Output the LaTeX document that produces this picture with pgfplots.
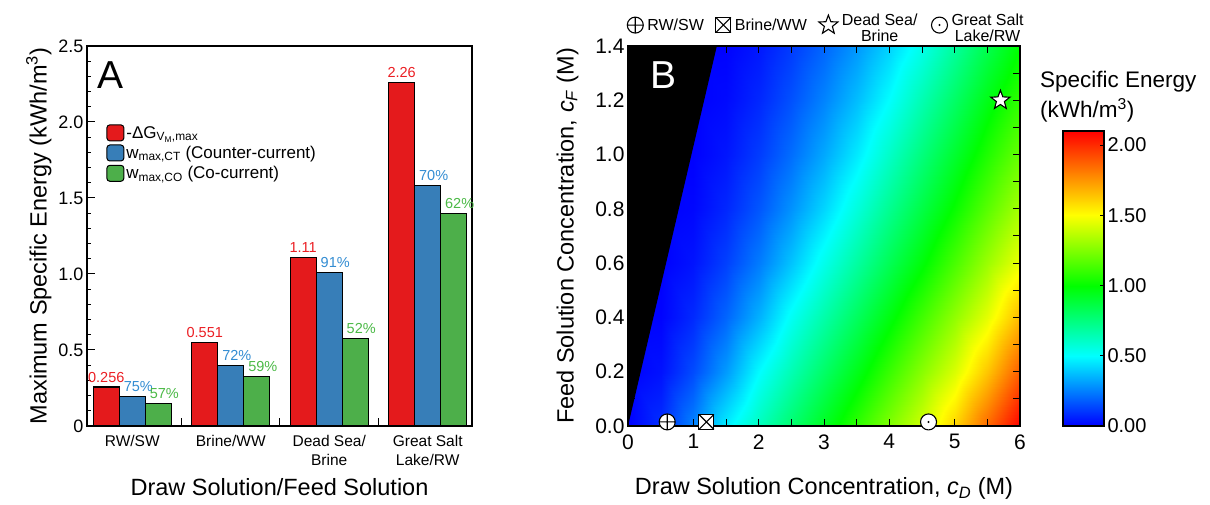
\documentclass[border=0pt]{standalone}
\usepackage{fontspec}
\setmainfont{Liberation Sans}
\usepackage{pgfplots}
\pgfplotsset{compat=1.18}
\pgfplotsset{/pgf/number format/assume math mode=true}

\definecolor{cred}{RGB}{228,26,28}
\definecolor{cblue}{RGB}{55,126,184}
\definecolor{cgreen}{RGB}{77,175,74}
\definecolor{lred}{RGB}{235,30,35}
\definecolor{lblue}{RGB}{50,140,210}
\definecolor{lgreen}{RGB}{75,185,70}

\pgfplotsset{colormap={energy}{rgb255(0cm)=(0,0,255) rgb255(5cm)=(0,255,255) rgb255(10cm)=(0,255,0) rgb255(15cm)=(255,255,0) rgb255(21cm)=(255,0,0)}}

\pgfdeclareplotmark{boxx}{%
  \pgfpathrectanglecorners{\pgfqpoint{-\pgfplotmarksize}{-\pgfplotmarksize}}{\pgfqpoint{\pgfplotmarksize}{\pgfplotmarksize}}%
  \pgfusepathqfillstroke
  \pgfpathmoveto{\pgfqpoint{-\pgfplotmarksize}{-\pgfplotmarksize}}%
  \pgfpathlineto{\pgfqpoint{\pgfplotmarksize}{\pgfplotmarksize}}%
  \pgfpathmoveto{\pgfqpoint{-\pgfplotmarksize}{\pgfplotmarksize}}%
  \pgfpathlineto{\pgfqpoint{\pgfplotmarksize}{-\pgfplotmarksize}}%
  \pgfusepathqstroke}
\pgfdeclareplotmark{fivestar}{%
  \pgfpathmoveto{\pgfpointpolar{90}{\pgfplotmarksize}}%
  \pgfpathlineto{\pgfpointpolar{126}{0.42\pgfplotmarksize}}%
  \pgfpathlineto{\pgfpointpolar{162}{\pgfplotmarksize}}%
  \pgfpathlineto{\pgfpointpolar{198}{0.42\pgfplotmarksize}}%
  \pgfpathlineto{\pgfpointpolar{234}{\pgfplotmarksize}}%
  \pgfpathlineto{\pgfpointpolar{270}{0.42\pgfplotmarksize}}%
  \pgfpathlineto{\pgfpointpolar{306}{\pgfplotmarksize}}%
  \pgfpathlineto{\pgfpointpolar{342}{0.42\pgfplotmarksize}}%
  \pgfpathlineto{\pgfpointpolar{18}{\pgfplotmarksize}}%
  \pgfpathlineto{\pgfpointpolar{54}{0.42\pgfplotmarksize}}%
  \pgfpathclose
  \pgfusepathqfillstroke}
\pgfdeclareplotmark{odotm}{%
  \pgfpathcircle{\pgfpointorigin}{\pgfplotmarksize}%
  \pgfusepathqfillstroke
  \pgfpathcircle{\pgfpointorigin}{0.14\pgfplotmarksize}%
  \pgfsetfillcolor{black}%
  \pgfusepathqfill}

\newcommand\fs[1]{\fontsize{#1}{#1}\selectfont}

\begin{document}
\begin{tikzpicture}
\path[use as bounding box] (0,0) rectangle (1210pt,505pt);

% ---------------- Panel A ----------------
\begin{axis}[
  at={(87pt,79pt)}, anchor=south west,
  scale only axis, width=385pt, height=380pt,
  xmin=-0.46, xmax=3.45, ymin=0, ymax=2.5,
  ybar=0pt, bar width=26pt,
  xtick={0.5,1.5,2.5}, xticklabels={},
  extra x ticks={0,1,2,3},
  extra x tick labels={RW/SW, Brine/WW, {Dead Sea/\\Brine}, {Great Salt\\Lake/RW}},
  extra x tick style={major tick length=0pt, xticklabel style={align=center, font=\fontsize{15.5}{18.5}\selectfont}},
  xticklabel shift=6pt,
  xtick pos=bottom, ytick pos=left,
  ytick={0,0.5,1,1.5,2,2.5}, yticklabels={0,0.5,1.0,1.5,2.0,2.5},
  minor y tick num=4,
  tick align=inside,
  major tick length=8pt, minor tick length=4pt,
  tick style={black, line width=1pt},
  axis line style={line width=1.3pt},
  yticklabel style={font=\fs{18}},
  xlabel={Draw Solution/Feed Solution},
  ylabel={Maximum Specific Energy (kWh/m\textsuperscript{3})},
  label style={font=\fs{23.5}},
  legend style={at={(0.042,0.80)}, anchor=north west, draw=none, fill=none,
    font=\fs{17}, row sep=2.5pt, cells={anchor=west}},
  legend image code/.code={\draw[#1, rounded corners=3pt, line width=1pt] (0pt,-8pt) rectangle (17pt,8pt);},
  nodes near coords,
  point meta=explicit symbolic,
]
\addplot[draw=black, line width=1.2pt, fill=cred,
  every node near coord/.append style={text=lred, font=\fs{14.5}, yshift=1pt}]
  coordinates {(0,0.256) [0.256] (1,0.551) [0.551] (2,1.11) [1.11] (3,2.26) [2.26]};
\addlegendentry{-ΔG\textsubscript{V\textsubscript{M},max}}
\addplot[draw=black, line width=1.2pt, fill=cblue,
  every node near coord/.append style={text=lblue, font=\fs{14.5}, xshift=6pt, yshift=1pt}]
  coordinates {(0,0.192) [75\%] (1,0.397) [72\%] (2,1.01) [91\%] (3,1.58) [70\%]};
\addlegendentry{w\textsubscript{max,CT} (Counter-current)}
\addplot[draw=black, line width=1.2pt, fill=cgreen,
  every node near coord/.append style={text=lgreen, font=\fs{14.5}, xshift=6pt, yshift=1pt}]
  coordinates {(0,0.146) [57\%] (1,0.325) [59\%] (2,0.577) [52\%] (3,1.40) [62\%]};
\addlegendentry{w\textsubscript{max,CO} (Co-current)}
\node[anchor=north west, inner sep=0pt, font=\fs{39}] at (rel axis cs:0.026,0.958) {A};
\end{axis}

% ---------------- Panel B ----------------
\begin{axis}[
  at={(628pt,79pt)}, anchor=south west,
  scale only axis, width=392pt, height=380pt,
  xmin=0, xmax=6, ymin=0, ymax=1.4,
  axis on top,
  xtick={0,1,...,6}, minor x tick num=1,
  ytick={0,0.2,...,1.4}, minor y tick num=1,
  yticklabel style={/pgf/number format/.cd, fixed, fixed zerofill, precision=1},
  tick label style={font=\fs{21}},
  xticklabel shift=5pt,
  tick align=inside,
  major tick length=7pt, minor tick length=7pt,
  tick style={black, line width=1pt},
  axis line style={line width=1.3pt},
  xlabel={Draw Solution Concentration, \textit{c}\textsubscript{\textit{D}} (M)},
  ylabel={Feed Solution Concentration, \textit{c}\textsubscript{\textit{F}} (M)},
  xlabel shift=21pt, ylabel shift=10pt,
  label style={font=\fs{23.5}},
  colormap name=energy,
  point meta min=0, point meta max=2.1,
  legend columns=4,
  legend style={at={(-0.01,1.055)}, anchor=west, draw=none, fill=none,
    font=\fs{16}, cells={anchor=center}, column sep=2pt},
]
\addplot[surf, shader=interp, mesh/cols=13, point meta=explicit, forget plot]
  table[x=x, y=y, meta=z] {
x y z
0.0 0.0 0
0.5 0.0 0.090
1.0 0.0 0.254
1.5 0.0 0.467
2.0 0.0 0.631
2.5 0.0 0.784
3.0 0.0 0.936
3.5 0.0 1.092
4.0 0.0 1.250
4.5 0.0 1.408
5.0 0.0 1.604
5.5 0.0 1.852
6.0 0.0 2.100
0.0 0.2 0
0.5 0.2 0.034
1.0 0.2 0.147
1.5 0.2 0.304
2.0 0.2 0.496
2.5 0.2 0.648
3.0 0.2 0.800
3.5 0.2 0.952
4.0 0.2 1.108
4.5 0.2 1.268
5.0 0.2 1.427
5.5 0.2 1.634
6.0 0.2 1.882
0.0 0.4 0
0.5 0.4 0.005
1.0 0.4 0.080
1.5 0.4 0.198
2.0 0.4 0.347
2.5 0.4 0.518
3.0 0.4 0.668
3.5 0.4 0.817
4.0 0.4 0.967
4.5 0.4 1.125
5.0 0.4 1.285
5.5 0.4 1.446
6.0 0.4 1.664
0.0 0.6 0
0.5 0.6 0
1.0 0.6 0.037
1.5 0.6 0.125
2.0 0.6 0.242
2.5 0.6 0.383
3.0 0.6 0.538
3.5 0.6 0.686
4.0 0.6 0.834
4.5 0.6 0.982
5.0 0.6 1.142
5.5 0.6 1.303
6.0 0.6 1.465
0.0 0.8 0
0.5 0.8 0
1.0 0.8 0.012
1.5 0.8 0.075
2.0 0.8 0.169
2.5 0.8 0.286
3.0 0.8 0.420
3.5 0.8 0.568
4.0 0.8 0.717
4.5 0.8 0.866
5.0 0.8 1.016
5.5 0.8 1.172
6.0 0.8 1.328
0.0 1.0 0
0.5 1.0 0
1.0 1.0 0
1.5 1.0 0.041
2.0 1.0 0.117
2.5 1.0 0.214
3.0 1.0 0.330
3.5 1.0 0.461
4.0 1.0 0.608
4.5 1.0 0.759
5.0 1.0 0.910
5.5 1.0 1.059
6.0 1.0 1.206
0.0 1.2 0
0.5 1.2 0
1.0 1.2 0
1.5 1.2 0.018
2.0 1.2 0.076
2.5 1.2 0.158
3.0 1.2 0.258
3.5 1.2 0.372
4.0 1.2 0.500
4.5 1.2 0.652
5.0 1.2 0.803
5.5 1.2 0.955
6.0 1.2 1.098
0.0 1.4 0
0.5 1.4 0
1.0 1.4 0
1.5 1.4 0.003
2.0 1.4 0.045
2.5 1.4 0.113
3.0 1.4 0.198
3.5 1.4 0.297
4.0 1.4 0.410
4.5 1.4 0.540
5.0 1.4 0.693
5.5 1.4 0.847
6.0 1.4 1.000
};
\addplot[fill=black, draw=none, forget plot] coordinates {(0,0) (1.36,1.4) (0,1.4) (0,0)} -- cycle;
\addplot[only marks, black, mark=oplus*, mark size=8pt, mark options={fill=white, line width=1.1pt}]
  coordinates {(0.6,0.015)};
\addlegendentry{RW/SW\rule{8pt}{0pt}}
\addplot[only marks, black, mark=boxx, mark size=7.5pt, mark options={fill=white, line width=1.1pt}]
  coordinates {(1.2,0.015)};
\addlegendentry{Brine/WW\rule{8pt}{0pt}}
\addplot[only marks, black, mark=fivestar, mark size=10pt, mark options={fill=white, line width=1.1pt}]
  coordinates {(5.7,1.2)};
\addlegendentry{\begin{tabular}{@{}c@{}}Dead Sea/\\Brine\end{tabular}\rule{10pt}{0pt}}
\addplot[only marks, black, mark=odotm, mark size=8pt, mark options={fill=white, line width=1.1pt}]
  coordinates {(4.6,0.015)};
\addlegendentry{\begin{tabular}{@{}c@{}}Great Salt\\Lake/RW\end{tabular}}
\node[anchor=north west, inner sep=0pt, font=\fs{39}, text=white] at (rel axis cs:0.056,0.958) {B};
\end{axis}

% ---------------- Colour bar ----------------
\begin{axis}[
  at={(1063pt,79pt)}, anchor=south west,
  scale only axis, width=41pt, height=295pt,
  xmin=0, xmax=1, ymin=0, ymax=2.1,
  axis on top,
  xtick=\empty,
  ytick={0,0.5,1,1.5,2},
  ytick pos=right, yticklabel pos=right,
  yticklabel style={font=\fs{20}, /pgf/number format/.cd, fixed, fixed zerofill, precision=2},
  tick align=inside, major tick length=4pt,
  tick style={black, line width=1pt},
  axis line style={line width=1.2pt},
  colormap name=energy,
  point meta min=0, point meta max=2.1,
]
\addplot[surf, shader=interp, mesh/cols=2, point meta=explicit]
  table[x=x, y=y, meta=z] {
x y z
0 0 0
1 0 0
0 0.5 0.5
1 0.5 0.5
0 1.0 1.0
1 1.0 1.0
0 1.5 1.5
1 1.5 1.5
0 2.1 2.1
1 2.1 2.1
};
\end{axis}

\node[anchor=north west, align=left, inner sep=0pt, font=\fontsize{22.5}{30}\selectfont] at (1040pt,434pt)
  {Specific Energy\\(kWh/m\textsuperscript{3})};
\end{tikzpicture}
\end{document}
